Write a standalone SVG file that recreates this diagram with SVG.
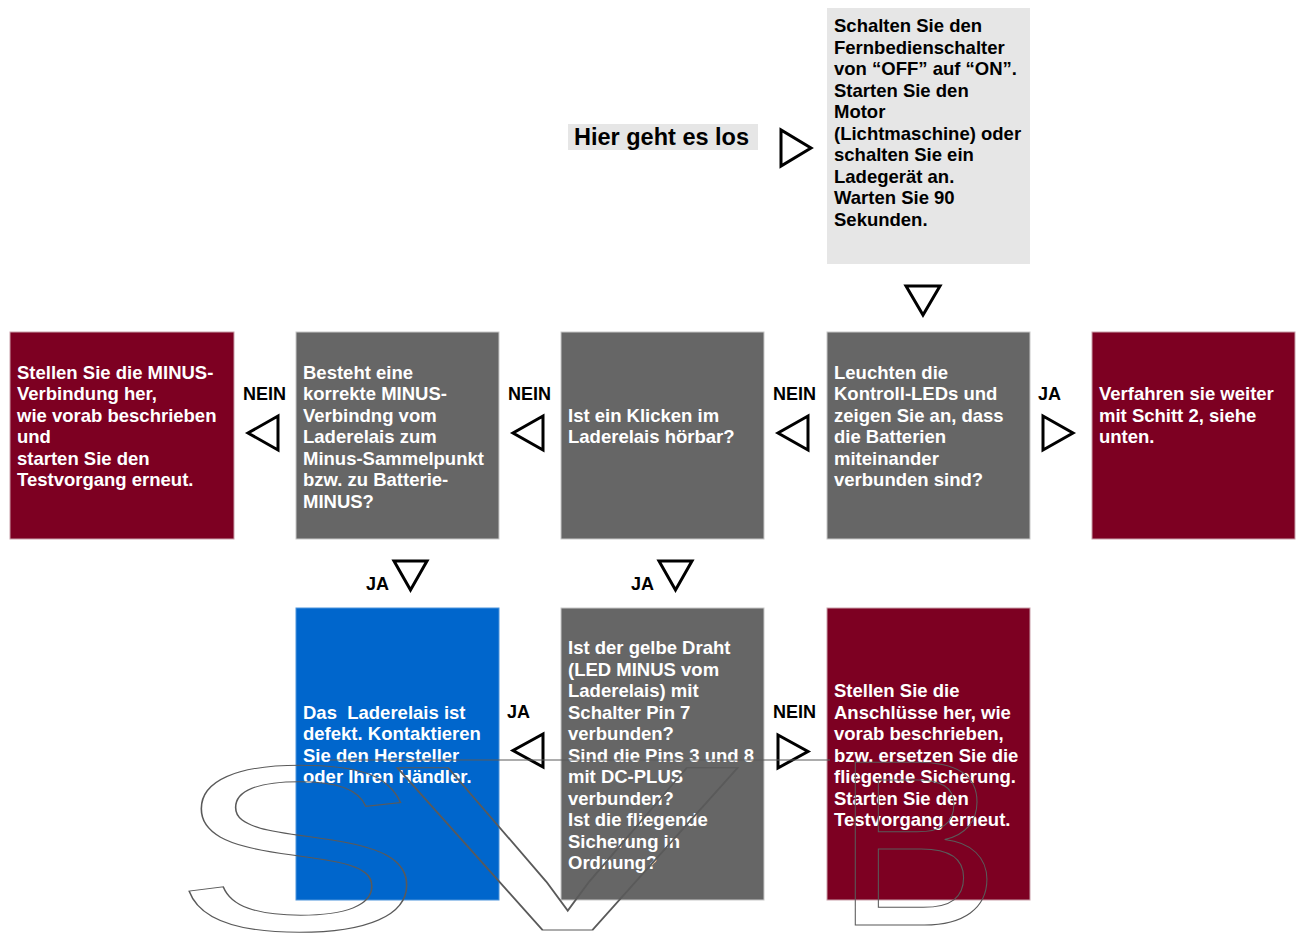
<svg xmlns="http://www.w3.org/2000/svg" width="1302" height="941" viewBox="0 0 1302 941">
<style>
  .t{font-family:"Liberation Sans",Arial,sans-serif;font-weight:bold;font-size:18.5px}
  .w{fill:#ffffff}
  .k{fill:#000000}
  .lbl{font-family:"Liberation Sans",Arial,sans-serif;font-weight:bold;font-size:18px;fill:#000}
  .red{fill:#7d0022;stroke:#c9a0aa;stroke-width:1}
  .gray{fill:#666666;stroke:#c8c8c8;stroke-width:1}
  .blue{fill:#0066cc;stroke:#4d94db;stroke-width:1}
  .light{fill:#e6e6e6}
  .tri{fill:#ffffff;stroke:#000;stroke-width:3;stroke-linejoin:miter}
  .wm{font-family:"Liberation Sans",Arial,sans-serif;font-size:236px;fill:none;stroke:#5a5a5a;stroke-width:1}
</style>
<rect width="1302" height="941" fill="#ffffff"/>

<g id="start">
  <rect class="light" x="568" y="124" width="190" height="26"/>
  <text class="k" x="574" y="145" style="font-family:'Liberation Sans',Arial,sans-serif;font-weight:bold;font-size:23.5px">Hier geht es los</text>
</g>

<g id="n-top">
  <rect class="light" x="827" y="8" width="203" height="256"/>
  <text class="t k">
    <tspan x="834" y="32">Schalten Sie den</tspan>
    <tspan x="834" y="53.5">Fernbedienschalter</tspan>
    <tspan x="834" y="75">von “OFF” auf “ON”.</tspan>
    <tspan x="834" y="96.5">Starten Sie den</tspan>
    <tspan x="834" y="118">Motor</tspan>
    <tspan x="834" y="139.5">(Lichtmaschine) oder</tspan>
    <tspan x="834" y="161">schalten Sie ein</tspan>
    <tspan x="834" y="182.5">Ladegerät an.</tspan>
    <tspan x="834" y="204">Warten Sie 90</tspan>
    <tspan x="834" y="225.5">Sekunden.</tspan>
  </text>
</g>

<g id="n-minus-fix">
  <rect class="red" x="10" y="332" width="224" height="207"/>
  <text class="t w">
    <tspan x="17" y="378.5">Stellen Sie die MINUS-</tspan>
    <tspan x="17" y="400">Verbindung her,</tspan>
    <tspan x="17" y="421.5">wie vorab beschrieben</tspan>
    <tspan x="17" y="443">und</tspan>
    <tspan x="17" y="464.5">starten Sie den</tspan>
    <tspan x="17" y="486">Testvorgang erneut.</tspan>
  </text>
</g>

<g id="n-minus-check">
  <rect class="gray" x="296" y="332" width="203" height="207"/>
  <text class="t w">
    <tspan x="303" y="378.5">Besteht eine</tspan>
    <tspan x="303" y="400">korrekte MINUS-</tspan>
    <tspan x="303" y="421.5">Verbindng vom</tspan>
    <tspan x="303" y="443">Laderelais zum</tspan>
    <tspan x="303" y="464.5">Minus-Sammelpunkt</tspan>
    <tspan x="303" y="486">bzw. zu Batterie-</tspan>
    <tspan x="303" y="507.5">MINUS?</tspan>
  </text>
</g>

<g id="n-click">
  <rect class="gray" x="561" y="332" width="203" height="207"/>
  <text class="t w">
    <tspan x="568" y="421.5">Ist ein Klicken im</tspan>
    <tspan x="568" y="443">Laderelais hörbar?</tspan>
  </text>
</g>

<g id="n-leds">
  <rect class="gray" x="827" y="332" width="203" height="207"/>
  <text class="t w">
    <tspan x="834" y="378.5">Leuchten die</tspan>
    <tspan x="834" y="400">Kontroll-LEDs und</tspan>
    <tspan x="834" y="421.5">zeigen Sie an, dass</tspan>
    <tspan x="834" y="443">die Batterien</tspan>
    <tspan x="834" y="464.5">miteinander</tspan>
    <tspan x="834" y="486">verbunden sind?</tspan>
  </text>
</g>

<g id="n-step2">
  <rect class="red" x="1092" y="332" width="203" height="207"/>
  <text class="t w">
    <tspan x="1099" y="400">Verfahren sie weiter</tspan>
    <tspan x="1099" y="421.5">mit Schitt 2, siehe</tspan>
    <tspan x="1099" y="443">unten.</tspan>
  </text>
</g>

<g id="n-defect">
  <rect class="blue" x="296" y="608" width="203" height="292"/>
  <text class="t w">
    <tspan x="303" y="718.5">Das&#160; Laderelais ist</tspan>
    <tspan x="303" y="740">defekt. Kontaktieren</tspan>
    <tspan x="303" y="761.5">Sie den Hersteller</tspan>
    <tspan x="303" y="783">oder Ihren Händler.</tspan>
  </text>
</g>

<g id="n-wire">
  <rect class="gray" x="561" y="608" width="203" height="292"/>
  <text class="t w">
    <tspan x="568" y="654">Ist der gelbe Draht</tspan>
    <tspan x="568" y="675.5">(LED MINUS vom</tspan>
    <tspan x="568" y="697">Laderelais) mit</tspan>
    <tspan x="568" y="718.5">Schalter Pin 7</tspan>
    <tspan x="568" y="740">verbunden?</tspan>
    <tspan x="568" y="761.5">Sind die Pins 3 und 8</tspan>
    <tspan x="568" y="783">mit DC-PLUS</tspan>
    <tspan x="568" y="804.5">verbunden?</tspan>
    <tspan x="568" y="826">Ist die fliegende</tspan>
    <tspan x="568" y="847.5">Sicherung in</tspan>
    <tspan x="568" y="869">Ordnung?</tspan>
  </text>
</g>

<g id="n-fix-wire">
  <rect class="red" x="827" y="608" width="203" height="292"/>
  <text class="t w">
    <tspan x="834" y="697">Stellen Sie die</tspan>
    <tspan x="834" y="718.5">Anschlüsse her, wie</tspan>
    <tspan x="834" y="740">vorab beschrieben,</tspan>
    <tspan x="834" y="761.5">bzw. ersetzen Sie die</tspan>
    <tspan x="834" y="783">fliegende Sicherung.</tspan>
    <tspan x="834" y="804.5">Starten Sie den</tspan>
    <tspan x="834" y="826">Testvorgang erneut.</tspan>
  </text>
</g>

<g id="connectors">
  <polygon class="tri" points="781,130 781,166 811,148"/>
  <polygon class="tri" points="906,286 940,286 923,315"/>
  <polygon class="tri" points="278,416 278,450 248,433"/>
  <polygon class="tri" points="543,416 543,450 513,433"/>
  <polygon class="tri" points="808,416 808,450 778,433"/>
  <polygon class="tri" points="1043,416 1043,450 1073,433"/>
  <polygon class="tri" points="394,561 427,561 410.5,590"/>
  <polygon class="tri" points="659,561 692,561 675.5,590"/>
  <polygon class="tri" points="543,734 543,767 513,750.5"/>
  <polygon class="tri" points="778,735 778,768 808,751.5"/>
  <text class="lbl" x="243" y="400">NEIN</text>
  <text class="lbl" x="508" y="400">NEIN</text>
  <text class="lbl" x="773" y="400">NEIN</text>
  <text class="lbl" x="1038" y="400">JA</text>
  <text class="lbl" x="366" y="590">JA</text>
  <text class="lbl" x="631" y="590">JA</text>
  <text class="lbl" x="507" y="718">JA</text>
  <text class="lbl" x="773" y="718">NEIN</text>
</g>

<g id="watermark">
  <line x1="330" y1="760" x2="830" y2="760" stroke="#5a5a5a" stroke-width="1"/>
  <text class="wm" x="172" y="930" textLength="252" lengthAdjust="spacingAndGlyphs">S</text>
  <text class="wm" x="395" y="930" textLength="345" lengthAdjust="spacingAndGlyphs">V</text>
  <text class="wm" x="835" y="925" textLength="165" lengthAdjust="spacingAndGlyphs">B</text>
</g>
</svg>
